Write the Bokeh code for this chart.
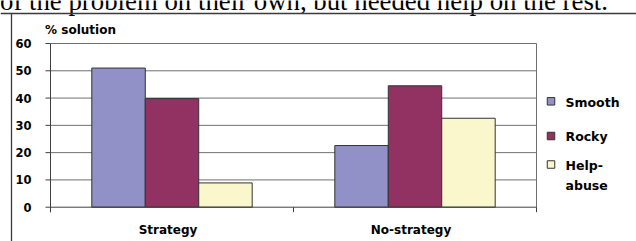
from bokeh.plotting import figure
from bokeh.models import Range1d, ColumnDataSource
from bokeh.transform import dodge
from bokeh.embed import file_html
from bokeh.resources import INLINE
from bokeh.core.properties import value

# ---- data ----
categories = ["Strategy", "No-strategy"]
series = ["Smooth", "Rocky", "Help-\nabuse"]
smooth = [51.0, 22.6]
rocky = [39.8, 44.5]
help_abuse = [8.9, 32.6]
colors = ["#9191C8", "#923262", "#FAF7CD"]
y_ticks = [0, 10, 20, 30, 40, 50, 60]
y_label = "% solution"
caption = "of the problem on their own, but needed help on the rest."

FONT = "DejaVu Sans"
W, H = 636, 241
# plot box inside the canvas (pixels)
PL, PR, PT, PB = 50, 536, 43, 206.7
NC = len(categories)
YMAX = y_ticks[-1]
XPU = (PR - PL) / NC
YPU = (PB - PT) / YMAX


def dx(px):
    return px / XPU


def dy(px):
    return px / YPU


def X(px):
    return (px - PL) / XPU


def Y(py):
    return (PB - py) / YPU


p = figure(width=W, height=H, output_backend="svg", toolbar_location=None,
           x_range=Range1d(X(0), X(W)), y_range=Range1d(Y(H), Y(0)),
           x_axis_type=None, y_axis_type=None, min_border=0)
p.grid.visible = False
p.outline_line_color = None
p.background_fill_color = "white"
p.border_fill_color = "white"

centers = [i + 0.5 for i in range(NC)]
bounds = list(range(NC + 1))
src = ColumnDataSource(dict(x=centers, cat=categories, smooth=smooth,
                            rocky=rocky, help=help_abuse))

GRID = "#707070"
AX = "#404040"

# grid lines and plot border
gt = y_ticks[1:]
p.segment(x0=[0] * len(gt), x1=[NC] * len(gt), y0=gt, y1=gt,
          line_color=GRID, line_width=1)
p.segment(x0=[NC], x1=[NC], y0=[0], y1=[YMAX], line_color=GRID, line_width=1)

# bars
bw = 0.22
cols = ["smooth", "rocky", "help"]
for k, (c, col) in enumerate(zip(cols, colors)):
    p.vbar(x=dodge("x", (k - 1) * bw, range=p.x_range), top=c, width=bw,
           bottom=0, source=src, fill_color=col, line_color="#333333",
           line_width=1)

# y axis
p.segment(x0=[0], x1=[0], y0=[-dy(5)], y1=[YMAX], line_color=AX, line_width=1)
p.segment(x0=[-dx(5)] * len(y_ticks), x1=[0] * len(y_ticks), y0=y_ticks,
          y1=y_ticks, line_color=AX, line_width=1)
p.text(x=[-dx(19)] * len(y_ticks), y=y_ticks, text=[str(t) for t in y_ticks],
       text_font=value(FONT), text_font_style="bold", text_font_size="11.5px",
       text_align="right", text_baseline="middle", text_color="black")

# x axis
p.segment(x0=[0], x1=[NC], y0=[0], y1=[0], line_color=AX, line_width=1)
p.segment(x0=bounds, x1=bounds, y0=[-dy(5)] * len(bounds), y1=[0] * len(bounds),
          line_color=AX, line_width=1)
p.text(x=dodge("x", -dx(4), range=p.x_range), y=Y(234 - 0.346 * 12), text="cat",
       source=src, text_font=value(FONT), text_font_style="bold",
       text_font_size="12px", text_align="center", text_baseline="middle",
       text_color="black")

# y title
p.text(x=[X(80)], y=[Y(34 - 0.346 * 12)], text=[y_label],
       text_font=value(FONT), text_font_style="bold", text_font_size="12px",
       text_align="center", text_baseline="middle", text_color="black")

# legend (swatches + labels)
LFS = 12.5
line_h = 20.0
sw_y = [100.8, 135.5, 164.0]
base_y = [106.0, 140.0, 169.3]
nlines = [s.count("\n") for s in series]
p.rect(x=[X(550.5)] * len(series), y=[Y(v) for v in sw_y], width=7.5, height=7.5,
       width_units="screen", height_units="screen", fill_color=colors,
       line_color="#333333", line_width=1)
p.text(x=[X(565)] * len(series),
       y=[Y(b - 0.346 * LFS + n * line_h / 2) for b, n in zip(base_y, nlines)],
       text=series, text_font=value(FONT), text_font_style="bold",
       text_font_size=f"{LFS}px", text_align="left", text_baseline="middle",
       text_color="black", text_line_height=line_h / (1.164 * LFS))

# slide caption (cut by the top edge) and slide frame lines
CFS = 26.8
p.text(x=[X(-0.5)], y=[Y(9.3 - 0.3375 * CFS)], text=[caption],
       text_font=value("Liberation Serif"), text_font_size=f"{CFS}px",
       text_align="left", text_baseline="middle", text_color="black")
p.segment(x0=[X(0)], x1=[X(W)], y0=[Y(13)], y1=[Y(13)],
          line_color="#3a3a3a", line_width=1.3)
p.segment(x0=[X(11)], x1=[X(11)], y0=[Y(13)], y1=[Y(H)],
          line_color="#3a3a3a", line_width=1.3)

open("out.html", "w").write(file_html(p, INLINE))
